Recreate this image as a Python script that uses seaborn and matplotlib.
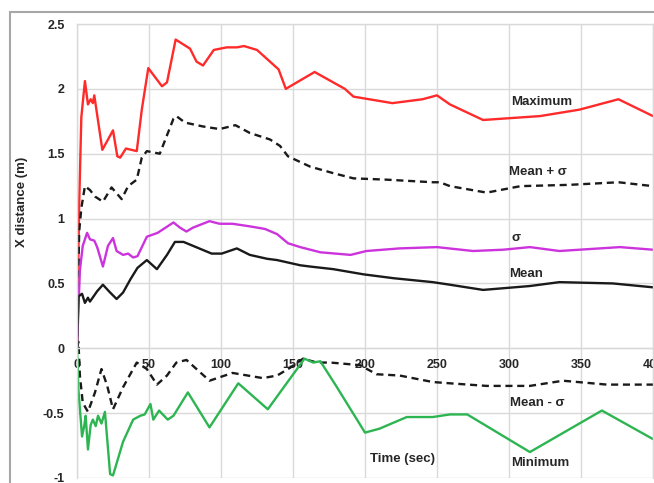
import pandas as pd
import seaborn as sns
import matplotlib.pyplot as plt
from matplotlib.patches import Rectangle

# Values (time in sec, X distance in m)
t_max = [0, 1.5, 3, 5.5, 7.6, 9.5, 11, 12, 17.6, 25, 28, 30, 34, 41.5, 45, 49.5, 59, 62.5,
         68.5, 78.5, 83, 87.5, 95, 104, 111, 116, 125, 134, 140, 145, 165, 186, 192, 219,
         240, 250, 259, 282, 321.5, 349, 376, 400]
v_max = [0, 1.1, 1.78, 2.06, 1.88, 1.92, 1.89, 1.95, 1.53, 1.68, 1.48, 1.47, 1.54, 1.52,
         1.84, 2.16, 2.02, 2.05, 2.38, 2.31, 2.21, 2.18, 2.30, 2.32, 2.32, 2.33, 2.30, 2.21,
         2.15, 2.0, 2.13, 2.0, 1.94, 1.89, 1.92, 1.95, 1.88, 1.76, 1.79, 1.84, 1.92, 1.79]

t_mps = [0, 1.5, 3, 5.5, 9, 12.5, 18, 24, 31, 35.5, 41.5, 45, 48.5, 57.5, 67, 69, 75, 87.5,
         99, 110, 120, 134, 141, 146.5, 162, 178, 192, 215, 247, 252, 259, 284.5, 308, 342,
         376, 400]
v_mps = [0, 0.9, 1.08, 1.25, 1.22, 1.17, 1.13, 1.24, 1.15, 1.25, 1.30, 1.47, 1.52, 1.50,
         1.77, 1.79, 1.74, 1.71, 1.69, 1.72, 1.66, 1.61, 1.56, 1.48, 1.40, 1.35, 1.31, 1.30,
         1.28, 1.28, 1.25, 1.20, 1.25, 1.26, 1.28, 1.25]

t_sig = [0, 2, 4, 7, 9, 12, 14, 18, 21.5, 25, 27.5, 32, 35.5, 39, 42, 48.5, 56, 67, 71.5,
         76, 80.5, 92, 99, 108, 120, 130.5, 139, 146.5, 155, 169, 190, 201, 224, 250, 275,
         296, 314.5, 335, 377, 400]
v_sig = [0, 0.6, 0.79, 0.89, 0.84, 0.83, 0.78, 0.63, 0.79, 0.85, 0.75, 0.72, 0.73, 0.70,
         0.71, 0.86, 0.89, 0.97, 0.93, 0.90, 0.93, 0.98, 0.96, 0.96, 0.94, 0.92, 0.88, 0.81,
         0.78, 0.74, 0.72, 0.75, 0.77, 0.78, 0.75, 0.76, 0.78, 0.75, 0.78, 0.76]

t_mean = [0, 1, 3.5, 5.5, 7.6, 9, 14, 18, 23, 27.5, 32, 37, 42, 48.5, 55.5, 62.5, 68, 74,
          80.5, 93.5, 100.5, 111, 120, 132, 139, 155, 162, 178, 199, 220, 247, 259, 282,
          314.5, 335, 372, 400]
v_mean = [0, 0.40, 0.42, 0.35, 0.39, 0.36, 0.44, 0.49, 0.43, 0.38, 0.43, 0.53, 0.62, 0.68,
          0.61, 0.72, 0.82, 0.82, 0.79, 0.73, 0.73, 0.77, 0.72, 0.69, 0.68, 0.64, 0.63,
          0.61, 0.57, 0.54, 0.51, 0.49, 0.45, 0.48, 0.51, 0.50, 0.47]

t_mms = [0, 1, 2, 4, 7.6, 12.5, 17, 21, 25, 32, 41.5, 48.5, 55.5, 62.5, 69, 76, 92, 108,
         129, 139, 148, 157, 166.5, 176, 196.5, 208, 224, 247, 259, 284.5, 314.5, 337.5,
         368, 400]
v_mms = [0, 0.05, -0.21, -0.42, -0.49, -0.34, -0.16, -0.29, -0.47, -0.30, -0.11, -0.16,
         -0.28, -0.21, -0.11, -0.09, -0.25, -0.19, -0.23, -0.21, -0.15, -0.08, -0.11, -0.11,
         -0.13, -0.20, -0.21, -0.26, -0.27, -0.29, -0.29, -0.25, -0.28, -0.28]

t_min = [0, 1, 3.5, 5, 6, 7.6, 9.5, 11, 13, 14.6, 17, 19.4, 23, 25, 32, 39, 44, 47, 51,
         53, 57, 63, 67, 77, 92, 112, 132.5, 158, 164, 169, 180.5, 200, 210, 229, 247, 259,
         271, 314.5, 364.5, 400]
v_min = [0, -0.32, -0.68, -0.60, -0.52, -0.78, -0.59, -0.55, -0.60, -0.52, -0.58, -0.49,
         -0.97, -0.98, -0.72, -0.55, -0.52, -0.51, -0.43, -0.55, -0.48, -0.55, -0.52, -0.34,
         -0.61, -0.27, -0.47, -0.08, -0.11, -0.10, -0.30, -0.65, -0.62, -0.53, -0.53, -0.51,
         -0.51, -0.80, -0.48, -0.70]

series = [
    ("Maximum", t_max, v_max, "#ff2a2a", "-"),
    ("Mean + σ", t_mps, v_mps, "#1a1a1a", (0, (3, 2))),
    ("σ", t_sig, v_sig, "#cc33dd", "-"),
    ("Mean", t_mean, v_mean, "#1a1a1a", "-"),
    ("Mean - σ", t_mms, v_mms, "#1a1a1a", (0, (3, 2))),
    ("Minimum", t_min, v_min, "#2db552", "-"),
]

# label positions (data coords)
labels = {
    "Maximum": (323, 1.90),
    "Mean + σ": (320, 1.36),
    "σ": (305, 0.85),
    "Mean": (312, 0.57),
    "Mean - σ": (320, -0.42),
    "Minimum": (322, -0.885),
}

y_ticks = [-1, -0.5, 0, 0.5, 1, 1.5, 2, 2.5]
y_ticklabels = ["-1", "-0.5", "0", "0.5", "1", "1.5", "2", "2.5"]
x_ticks = [0, 50, 100, 150, 200, 250, 300, 350, 400]

sns.set_style("white")
plt.rcParams['font.family'] = ['Liberation Sans', 'DejaVu Sans']
plt.rcParams['font.weight'] = 'bold'

fig = plt.figure(figsize=(6.54, 4.83), dpi=100)
ax = fig.add_axes([77 / 654, 5 / 483, 576 / 654, 454 / 483])

grid_c = "#d9d9d9"
for name, t, v, c, ls in series:
    sns.lineplot(x=t, y=v, ax=ax, color=c, linewidth=1.7, linestyle=ls,
                 estimator=None, sort=False)

for name, (x, y) in labels.items():
    ax.text(x, y, name, fontsize=9.5, fontweight="bold", ha="center", va="center",
            color="#262626")
ax.text(226, -0.85, "Time (sec)", fontsize=9.5, fontweight="bold", ha="center",
        va="center", color="#262626")

ax.set_xlim(0, 400)
ax.set_ylim(-1, 2.5)
ax.set_yticks(y_ticks)
ax.set_yticklabels(y_ticklabels)
ax.set_xticks(x_ticks)
ax.set_xticklabels([str(x) for x in x_ticks])
ax.set_xticks(range(0, 401, 10), minor=True)
ax.grid(True, color=grid_c, linewidth=1)

for s in ax.spines.values():
    s.set_color(grid_c)
    s.set_linewidth(1)
ax.spines["bottom"].set_position(("data", 0))

ax.tick_params(axis="y", length=0, pad=9, labelsize=9, labelcolor="#262626")
ax.tick_params(axis="x", which="both", direction="in", length=3, color=grid_c,
               pad=8, labelsize=9, labelcolor="#262626")
ax.set_xlabel("")
ax.set_ylabel("X distance (m)", fontsize=9.5, fontweight="bold", color="#262626")
ax.yaxis.set_label_coords(-0.085, 0.608)

# chart area frame
fig.patches.append(Rectangle((9.5 / 654, -0.1), 1.0, (483 - 12.5) / 483 + 0.1,
                             transform=fig.transFigure, fill=False,
                             edgecolor="#a6a6a6", linewidth=1.5))

fig.savefig("out.png", dpi=100)
